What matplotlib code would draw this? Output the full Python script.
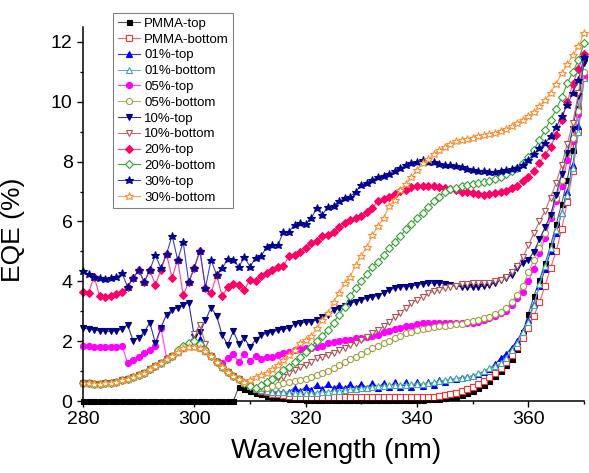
import numpy as np
import matplotlib
matplotlib.use("Agg")
import matplotlib.pyplot as plt
from matplotlib.ticker import MultipleLocator

plt.rcParams['font.family'] = ['Liberation Sans', 'DejaVu Sans']

wavelength = np.arange(280, 371)

pmma_top = [
    0, 0, 0, 0, 0, 0, 0, 0, 0, 0,
    0, 0, 0, 0, 0, 0, 0, 0, 0, 0,
    0, 0, 0, 0, 0, 0, 0, 0, 0.47, 0.40,
    0.33, 0.27, 0.22, 0.18, 0.15, 0.12, 0.10, 0.08, 0.07, 0.06,
    0.05, 0.05, 0.05, 0.05, 0.04, 0.04, 0.04, 0.04, 0.04, 0.04,
    0.04, 0.04, 0.04, 0.04, 0.04, 0.04, 0.04, 0.04, 0.05, 0.05,
    0.05, 0.05, 0.06, 0.06, 0.07, 0.09, 0.12, 0.15, 0.20, 0.26,
    0.35, 0.45, 0.55, 0.68, 0.82, 1.00, 1.20, 1.42, 1.75, 2.30,
    2.90, 3.50, 4.05, 4.60, 5.20, 5.90, 6.60, 7.40, 8.40, 9.80,
    11.5]

pmma_bottom = [
    0.60, 0.59, 0.58, 0.58, 0.59, 0.61, 0.65, 0.70, 0.75, 0.80,
    0.86, 0.95, 1.06, 1.17, 1.28, 1.39, 1.50, 1.65, 1.78, 1.83,
    1.85, 1.78, 1.66, 1.50, 1.32, 1.15, 0.98, 0.84, 0.72, 0.59,
    0.49, 0.41, 0.34, 0.29, 0.25, 0.22, 0.19, 0.17, 0.15, 0.14,
    0.13, 0.12, 0.12, 0.12, 0.12, 0.12, 0.12, 0.12, 0.12, 0.12,
    0.12, 0.12, 0.12, 0.12, 0.12, 0.12, 0.12, 0.12, 0.12, 0.12,
    0.12, 0.12, 0.13, 0.14, 0.17, 0.20, 0.24, 0.28, 0.33, 0.40,
    0.48, 0.57, 0.68, 0.80, 0.94, 1.10, 1.30, 1.55, 1.80, 2.10,
    2.45, 2.85, 3.30, 3.85, 4.45, 5.00, 5.75, 6.65, 7.70, 9.00,
    10.8]

top_01 = [
    0.60, 0.59, 0.58, 0.58, 0.59, 0.61, 0.65, 0.70, 0.75, 0.80,
    0.86, 0.95, 1.06, 1.17, 1.28, 1.39, 1.50, 1.65, 1.78, 1.83,
    1.85, 2.06, 1.66, 1.50, 1.32, 1.15, 0.98, 0.84, 0.72, 0.59,
    0.49, 0.41, 0.36, 0.32, 0.30, 0.29, 0.29, 0.30, 0.45, 0.32,
    0.48, 0.38, 0.55, 0.40, 0.57, 0.42, 0.55, 0.42, 0.57, 0.43,
    0.58, 0.44, 0.60, 0.45, 0.60, 0.46, 0.62, 0.47, 0.62, 0.48,
    0.62, 0.50, 0.64, 0.55, 0.70, 0.62, 0.72, 0.74, 0.78, 0.80,
    0.84, 0.90, 0.98, 1.08, 1.22, 1.43, 1.58, 1.78, 2.02, 2.35,
    2.70, 3.25, 3.85, 4.40, 5.00, 5.60, 6.30, 7.00, 7.90, 9.20,
    11.0]

bottom_01 = [
    0.60, 0.59, 0.58, 0.58, 0.59, 0.61, 0.65, 0.70, 0.75, 0.80,
    0.86, 0.95, 1.06, 1.17, 1.28, 1.39, 1.50, 1.65, 1.78, 1.83,
    1.85, 1.78, 1.66, 1.50, 1.32, 1.15, 0.98, 0.84, 0.72, 0.59,
    0.49, 0.41, 0.36, 0.33, 0.31, 0.30, 0.29, 0.28, 0.27, 0.26,
    0.26, 0.27, 0.28, 0.29, 0.31, 0.33, 0.35, 0.37, 0.39, 0.41,
    0.43, 0.45, 0.47, 0.49, 0.50, 0.52, 0.53, 0.54, 0.55, 0.56,
    0.57, 0.58, 0.59, 0.62, 0.66, 0.70, 0.73, 0.76, 0.78, 0.80,
    0.85, 0.92, 1.00, 1.09, 1.17, 1.26, 1.45, 1.70, 1.95, 2.30,
    2.65, 3.20, 3.90, 4.50, 5.10, 5.70, 6.28, 6.90, 7.80, 9.00,
    10.8]

top_05 = [
    1.83, 1.83, 1.82, 1.80, 1.80, 1.80, 1.82, 1.85, 1.28, 1.37,
    1.48, 1.60, 1.72, 1.85, 2.45, 1.45, 1.52, 1.66, 1.78, 1.83,
    1.86, 1.80, 1.66, 1.50, 1.35, 1.26, 1.45, 1.58, 1.29, 1.58,
    1.35, 1.50, 1.39, 1.48, 1.48, 1.54, 1.60, 1.65, 1.70, 1.74,
    1.76, 1.78, 1.82, 1.84, 1.93, 1.98, 2.02, 2.04, 2.04, 2.10,
    2.10, 2.15, 2.17, 2.21, 2.32, 2.35, 2.40, 2.43, 2.49, 2.51,
    2.58, 2.60, 2.62, 2.62, 2.62, 2.62, 2.60, 2.60, 2.60, 2.60,
    2.62, 2.65, 2.70, 2.76, 2.85, 2.93, 3.02, 3.20, 3.43, 3.65,
    4.00, 4.40, 4.94, 5.45, 6.10, 6.70, 7.17, 8.06, 8.70, 9.60,
    10.9]

bottom_05 = [
    0.60, 0.59, 0.58, 0.58, 0.59, 0.61, 0.65, 0.70, 0.75, 0.80,
    0.86, 0.95, 1.06, 1.17, 1.28, 1.39, 1.50, 1.65, 1.78, 1.83,
    1.85, 1.78, 1.66, 1.50, 1.32, 1.15, 0.98, 0.84, 0.72, 0.59,
    0.49, 0.41, 0.42, 0.45, 0.50, 0.55, 0.59, 0.62, 0.66, 0.70,
    0.74, 0.80, 0.87, 0.93, 1.01, 1.09, 1.20, 1.30, 1.39, 1.48,
    1.58, 1.68, 1.76, 1.84, 1.93, 2.01, 2.10, 2.17, 2.26, 2.32,
    2.37, 2.40, 2.43, 2.46, 2.49, 2.51, 2.54, 2.56, 2.58, 2.63,
    2.68, 2.71, 2.76, 2.82, 2.90, 2.99, 3.10, 3.30, 3.55, 3.85,
    4.30, 4.72, 5.10, 5.60, 6.20, 6.80, 7.39, 8.28, 8.80, 9.70,
    11.0]

top_10 = [
    2.45, 2.40, 2.37, 2.35, 2.33, 2.33, 2.35, 2.40, 2.55, 2.02,
    2.12, 2.30, 2.62, 1.94, 2.45, 2.89, 3.05, 3.11, 3.20, 3.28,
    2.15, 2.30, 2.70, 3.12, 2.85, 2.20, 1.88, 2.33, 1.92, 2.10,
    1.80, 2.05, 2.20, 2.26, 2.30, 2.37, 2.40, 2.43, 2.58, 2.60,
    2.63, 2.65, 2.71, 2.82, 2.88, 3.04, 3.10, 3.18, 3.27, 3.32,
    3.38, 3.43, 3.49, 3.52, 3.62, 3.71, 3.77, 3.82, 3.82, 3.85,
    3.88, 3.92, 3.94, 3.94, 3.94, 3.92, 3.88, 3.84, 3.82, 3.80,
    3.82, 3.82, 3.84, 3.88, 3.94, 4.05, 4.12, 4.21, 4.44, 4.60,
    4.72, 4.99, 5.40, 5.80, 6.22, 6.90, 7.60, 8.30, 9.10, 10.2,
    11.3]

bottom_10 = [
    0.60, 0.59, 0.58, 0.58, 0.59, 0.61, 0.65, 0.70, 0.75, 0.80,
    0.86, 0.95, 1.06, 1.17, 1.28, 1.39, 1.50, 1.65, 1.78, 1.83,
    2.25, 2.55, 1.90, 1.50, 1.32, 1.15, 0.98, 0.84, 0.72, 0.59,
    0.49, 0.40, 0.48, 0.59, 0.70, 0.76, 0.81, 0.93, 1.04, 1.15,
    1.20, 1.32, 1.43, 1.46, 1.54, 1.62, 1.71, 1.78, 1.87, 1.95,
    2.04, 2.15, 2.26, 2.37, 2.49, 2.65, 2.82, 2.95, 3.10, 3.27,
    3.38, 3.49, 3.60, 3.66, 3.71, 3.77, 3.82, 3.86, 3.90, 3.92,
    3.94, 3.94, 3.94, 3.95, 4.00, 4.05, 4.15, 4.30, 4.50, 4.80,
    5.20, 5.61, 6.00, 6.35, 6.80, 7.30, 7.90, 8.60, 9.30, 10.3,
    11.5]

top_20 = [
    3.65, 3.62, 4.16, 3.50, 3.48, 3.50, 3.56, 3.65, 3.82, 4.10,
    4.38, 3.97, 4.38, 3.88, 4.38, 4.91, 4.12, 4.72, 3.54, 3.97,
    4.46, 5.02, 3.79, 3.60, 4.21, 3.50, 3.82, 3.90, 3.88, 3.72,
    4.06, 4.00, 4.18, 4.27, 4.38, 4.49, 4.51, 4.85, 4.88, 4.99,
    5.10, 5.27, 5.36, 5.51, 5.55, 5.66, 5.83, 5.94, 6.05, 6.11,
    6.19, 6.33, 6.44, 6.70, 6.74, 6.83, 6.92, 7.03, 7.06, 7.15,
    7.19, 7.17, 7.20, 7.19, 7.15, 7.13, 7.10, 7.06, 7.00, 6.97,
    6.94, 6.92, 6.90, 6.91, 6.95, 6.98, 7.03, 7.11, 7.20, 7.35,
    7.50, 7.70, 7.95, 8.23, 8.50, 8.90, 9.40, 10.0, 10.6, 11.1,
    11.6]

bottom_20 = [
    0.60, 0.59, 0.58, 0.58, 0.59, 0.61, 0.65, 0.70, 0.75, 0.80,
    0.86, 0.95, 1.06, 1.17, 1.28, 1.39, 1.50, 1.70, 1.85, 1.95,
    2.02, 1.92, 1.70, 1.52, 1.32, 1.15, 0.98, 0.84, 0.72, 0.59,
    0.49, 0.45, 0.55, 0.65, 0.75, 0.88, 1.02, 1.15, 1.30, 1.48,
    1.65, 1.82, 2.00, 2.17, 2.38, 2.62, 2.88, 3.15, 3.50, 3.78,
    4.00, 4.25, 4.49, 4.66, 4.88, 5.10, 5.33, 5.50, 5.74, 5.92,
    6.11, 6.28, 6.50, 6.67, 6.83, 7.00, 7.08, 7.13, 7.18, 7.22,
    7.26, 7.29, 7.31, 7.35, 7.42, 7.50, 7.60, 7.70, 7.80, 7.95,
    8.15, 8.39, 8.72, 9.05, 9.40, 9.75, 10.15, 10.62, 11.0, 11.4,
    11.96]

top_30 = [
    4.33, 4.24, 4.16, 4.10, 4.08, 4.10, 4.13, 4.27, 3.82, 4.10,
    4.38, 3.97, 4.38, 4.87, 4.44, 4.91, 5.53, 4.72, 5.31, 3.97,
    4.46, 5.02, 3.79, 4.72, 4.21, 4.44, 4.75, 4.70, 4.49, 4.80,
    4.49, 4.78, 4.83, 5.16, 5.22, 5.20, 5.66, 5.66, 5.89, 5.94,
    5.92, 6.11, 6.44, 6.22, 6.50, 6.52, 6.67, 6.78, 6.83, 7.00,
    7.22, 7.28, 7.39, 7.48, 7.52, 7.59, 7.70, 7.78, 7.89, 7.95,
    8.00, 8.06, 7.99, 7.98, 7.93, 7.90, 7.88, 7.85, 7.81, 7.77,
    7.73, 7.70, 7.68, 7.67, 7.67, 7.69, 7.72, 7.75, 7.80, 7.90,
    8.06, 8.25, 8.45, 8.62, 8.85, 9.15, 9.51, 9.90, 10.3, 10.74,
    11.5]

bottom_30 = [
    0.60, 0.59, 0.58, 0.58, 0.59, 0.61, 0.65, 0.70, 0.75, 0.80,
    0.86, 0.95, 1.06, 1.17, 1.28, 1.39, 1.50, 1.65, 1.76, 1.80,
    1.82, 1.78, 1.66, 1.50, 1.32, 1.15, 0.98, 0.84, 0.72, 0.65,
    0.70, 0.80, 0.87, 0.93, 1.06, 1.20, 1.37, 1.54, 1.71, 1.93,
    2.04, 2.17, 2.43, 2.71, 2.93, 3.32, 3.62, 3.95, 4.16, 4.55,
    4.85, 5.16, 5.55, 5.85, 6.11, 6.52, 6.72, 7.06, 7.26, 7.48,
    7.73, 7.95, 8.08, 8.25, 8.38, 8.50, 8.60, 8.68, 8.73, 8.76,
    8.80, 8.86, 8.88, 8.93, 8.97, 9.03, 9.10, 9.20, 9.28, 9.40,
    9.51, 9.65, 9.85, 10.07, 10.30, 10.60, 10.96, 11.25, 11.55, 11.85,
    12.3]

labels = ["PMMA-top", "PMMA-bottom", "01%-top", "01%-bottom",
          "05%-top", "05%-bottom", "10%-top", "10%-bottom",
          "20%-top", "20%-bottom", "30%-top", "30%-bottom"]
series = [pmma_top, pmma_bottom, top_01, bottom_01, top_05, bottom_05,
          top_10, bottom_10, top_20, bottom_20, top_30, bottom_30]

# (line colour, marker, marker face, marker edge, marker size)
styles = [
    ("#555555", "s", "#000000", "#000000", 3.6),
    ("#ff6060", "s", "white", "#ff3030", 4.0),
    ("#3030ff", "^", "#0000ff", "#0000ff", 4.4),
    ("#60b0b0", "^", "white", "#40a8a8", 4.4),
    ("#ff40ff", "o", "#ff00ff", "#ff00ff", 4.4),
    ("#b0b070", "o", "white", "#a0a040", 4.4),
    ("#3030a0", "v", "#000080", "#000080", 4.4),
    ("#c07070", "v", "white", "#b05050", 4.4),
    ("#ff4090", "D", "#ff0066", "#ff0066", 3.9),
    ("#40a040", "D", "white", "#30a030", 3.9),
    ("#4040c0", "*", "#000090", "#000090", 6.2),
    ("#ffa050", "*", "white", "#ff8c30", 6.2),
]

fig = plt.figure(figsize=(5.89, 4.73), dpi=100)
ax = fig.add_axes([83 / 589, 1 - 401 / 473, 501 / 589, 374 / 473])

for vals, lab, (lc, mk, mfc, mec, ms) in zip(series, labels, styles):
    ax.plot(wavelength, vals, color=lc, lw=0.8, marker=mk, ms=ms,
            mfc=mfc, mec=mec, mew=0.8, label=lab, clip_on=False)

ax.set_xlim(280, 370)
ax.set_ylim(0, 12.5)
ax.xaxis.set_major_locator(MultipleLocator(20))
ax.xaxis.set_minor_locator(MultipleLocator(10))
ax.yaxis.set_major_locator(MultipleLocator(2))
ax.yaxis.set_minor_locator(MultipleLocator(1))

for side in ("top", "right"):
    ax.spines[side].set_visible(False)
for side in ("left", "bottom"):
    ax.spines[side].set_linewidth(1.1)

ax.tick_params(which="major", direction="out", length=4.5, width=1.0,
               labelsize=14, pad=3)
ax.tick_params(which="minor", direction="out", length=2.5, width=1.0)

ax.set_xlabel("Wavelength (nm)", fontsize=20)
ax.set_ylabel("EQE (%)", fontsize=19)
ax.xaxis.set_label_coords(0.505, -0.10)
ax.yaxis.set_label_coords(-0.115, 0.457)

leg = fig.legend(loc="upper left", bbox_to_anchor=(113 / 589, 1 - 13 / 473),
                 fontsize=9.5, frameon=True, fancybox=False,
                 edgecolor="#808080", framealpha=1, borderpad=0.35,
                 labelspacing=0.27, handlelength=1.7, handletextpad=0.3,
                 borderaxespad=0)
leg.get_frame().set_linewidth(0.8)

fig.savefig("out.png", dpi=100)
